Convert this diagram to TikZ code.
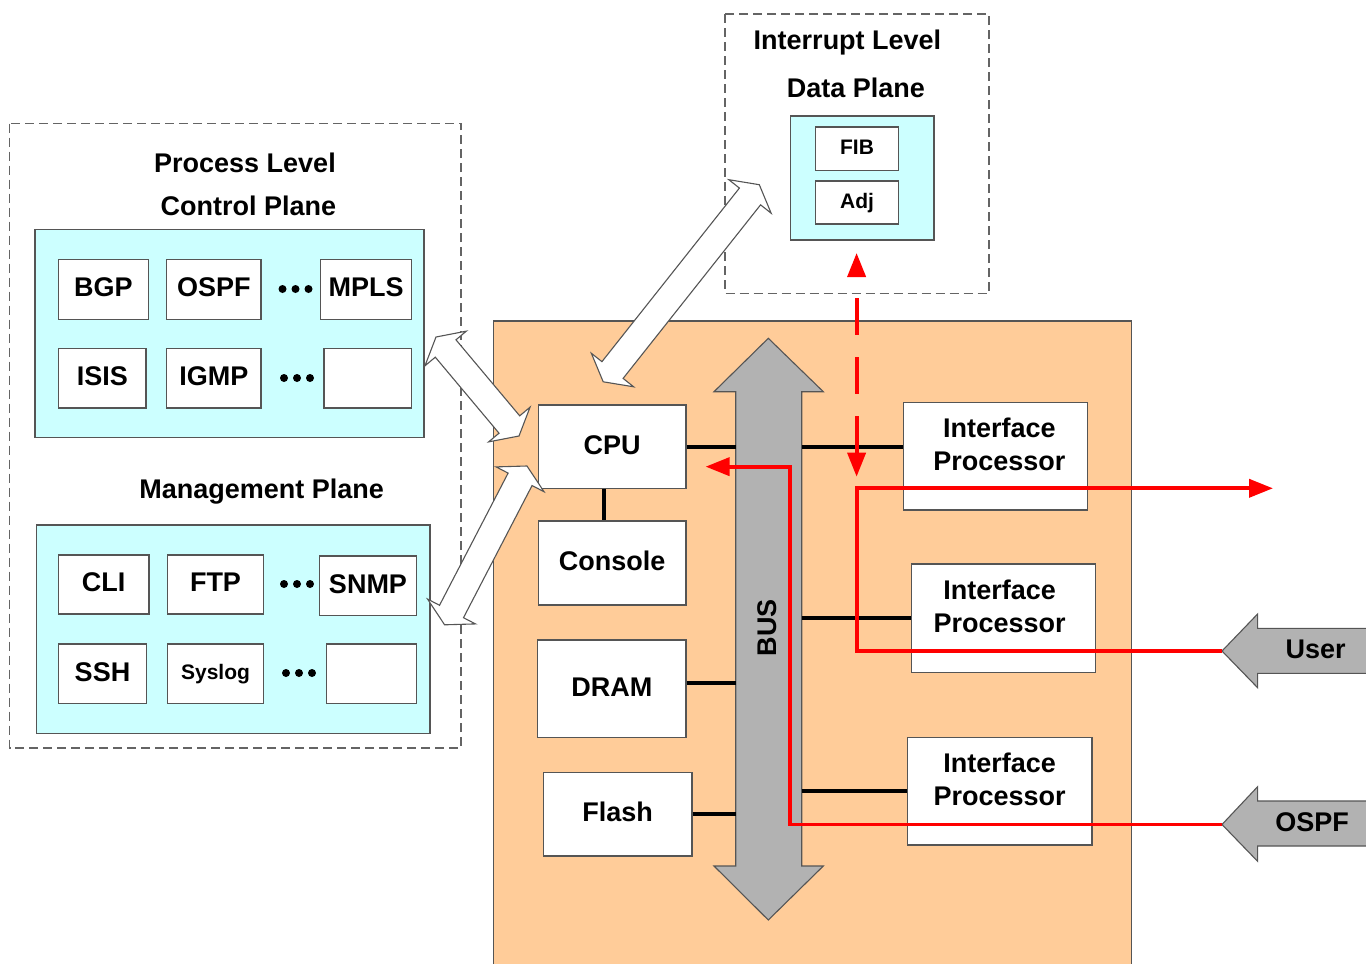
\documentclass[tikz,border=0pt]{standalone}
\usepackage{fontspec}
\setmainfont{Liberation Sans}
\usetikzlibrary{calc,arrows.meta}

\definecolor{peach}{RGB}{255,204,153}
\definecolor{palecyan}{RGB}{204,255,255}
\definecolor{busgray}{RGB}{178,178,178}
\definecolor{edgegray}{RGB}{85,85,85}
\definecolor{dashgray}{RGB}{100,100,100}

\newcommand\diagfont{\bfseries\fontsize{27}{33}\selectfont}
\newcommand\diagsmallfont{\bfseries\fontsize{21}{25}\selectfont}

% Rectangle node spanning the corners (x1,y1)-(x2,y2)
% \spanbox{style}{name}{x1}{y1}{x2}{y2}{text}
\newcommand\spanbox[7]{%
  \node[#1,minimum width={(#5-#3)*1pt},minimum height={(#6-#4)*1pt}]
    (#2) at ({(#3+#5)/2},{(#4+#6)/2}) {#7};}

% Notched double-headed block arrow between two tip points
\newcommand\duplexarrow[2]{%
  \coordinate (ha) at ($(#1)!15pt!(#2)$);
  \coordinate (hb) at ($(#2)!15pt!(#1)$);
  \draw[duplex] (#1)
    -- ($(ha)!27pt!90:(#2)$) -- ($(ha)!13.5pt!90:(#2)$)
    -- ($(hb)!13.5pt!-90:(#1)$) -- ($(hb)!27pt!-90:(#1)$)
    -- (#2)
    -- ($(hb)!27pt!90:(#1)$) -- ($(hb)!13.5pt!90:(#1)$)
    -- ($(ha)!13.5pt!-90:(#2)$) -- ($(ha)!27pt!-90:(#2)$) -- cycle;
}

\begin{document}
\begin{tikzpicture}[x=1pt,y=-1pt,
  region/.style={draw=dashgray,line width=1.2pt,dash pattern=on 9pt off 5pt},
  plane/.style={draw=edgegray,line width=1.2pt,fill=palecyan,inner sep=0pt},
  board/.style={draw=edgegray,line width=1.2pt,fill=peach,inner sep=0pt},
  proc/.style={draw=edgegray,line width=1.2pt,fill=white,inner sep=0pt,
               font=\diagfont,text height=19.3pt,text depth=4.5pt},
  procsmall/.style={proc,font=\diagsmallfont,text height=15pt,text depth=3.5pt},
  title/.style={font=\diagfont,inner sep=0pt,text height=19.3pt,text depth=0pt},
  iplabel/.style={font=\diagfont,align=center,inner sep=0pt},
  wire/.style={line width=4.2pt,black},
  flow/.style={line width=3.8pt,red},
  redtip/.style={-{Triangle[length=24pt,width=18pt]}},
  duplex/.style={draw=edgegray,line width=1.1pt,fill=white,line join=miter},
  busbody/.style={draw=edgegray,line width=1.1pt,fill=busgray},
  ingress/.style={draw=edgegray,line width=1.1pt,fill=busgray}]

\path[use as bounding box,clip] (0,0) rectangle (1366,964);

% dashed level regions
\draw[region] (9.5,123.5) rectangle (461,748);
\draw[region] (725,14) rectangle (989,293.5);

% planes
\spanbox{plane}{cp}{35}{229.5}{424}{437.5}{}
\spanbox{plane}{mp}{36.5}{525}{430}{733.5}{}
\spanbox{plane}{dp}{790.5}{116}{934}{240}{}

\node[title] (pltitle) at (245,162.5) {Process Level};
\node[title] (cptitle) at (248.3,206) {Control Plane};
\node[title] (mptitle) at (261.7,488.7) {Management Plane};
\node[title] (iltitle) at (847.5,40) {Interrupt Level};
\node[title] (dptitle) at (855.8,88.3) {Data Plane};

% control plane processes
\spanbox{proc}{bgp}{58.5}{259.5}{148.5}{319.5}{BGP}
\spanbox{proc}{ospf}{166.7}{259.5}{261}{319.5}{OSPF}
\spanbox{proc}{mpls}{320.7}{259.5}{411.7}{319.5}{MPLS}
\spanbox{proc}{isis}{58.7}{348.7}{146}{408}{ISIS}
\spanbox{proc}{igmp}{166.7}{348.7}{261}{408}{IGMP}
\spanbox{proc}{cpspare}{324}{348.7}{411.7}{408}{}

% management plane processes
\spanbox{proc}{cli}{58.3}{555}{149}{614}{CLI}
\spanbox{proc}{ftp}{167.7}{555}{263.3}{614}{FTP}
\spanbox{proc}{snmp}{319.3}{556}{416.7}{615.7}{SNMP}
\spanbox{proc}{ssh}{58.3}{644}{146.7}{703.3}{SSH}
\spanbox{procsmall}{syslog}{167.7}{644}{263.3}{703.3}{Syslog}
\spanbox{proc}{mpspare}{326.7}{644}{416.7}{703.3}{}

% ellipsis dots
\foreach \x/\y in {282.5/289,295.5/289,308.5/289,
                   284/378,297/378,310/378,
                   284/584,297/584,310/584,
                   286/673,299/673,312/673}
  \fill (\x,\y) circle[radius=4pt];

% data plane tables
\spanbox{procsmall}{fib}{815.7}{127}{898.3}{170.7}{FIB}
\spanbox{procsmall}{adj}{815.7}{181}{898.3}{224}{Adj}

% router board
\spanbox{board}{board}{493.5}{321}{1131.5}{1000}{}

% system bus
\draw[busbody] (768.3,338.3) -- (823.3,391.7) -- (801.7,391.7) -- (801.7,866)
  -- (823.3,866) -- (768.3,920) -- (714,866) -- (735.7,866) -- (735.7,391.7)
  -- (714,391.7) -- cycle;
\node[title,rotate=90] (buslbl) at (766.7,627.5) {BUS};
\coordinate (busL) at (735.7,0);
\coordinate (busR) at (801.7,0);

% board components
\spanbox{proc}{cpu}{538.3}{405}{686}{488.3}{CPU}
\spanbox{proc}{console}{538.3}{521}{686}{605}{Console}
\spanbox{proc}{dram}{537.7}{640}{686}{737.3}{DRAM}
\spanbox{proc}{flash}{543.3}{772.3}{692}{856}{Flash}
\spanbox{proc}{ip1}{903.3}{402.7}{1087.5}{510}{}
\spanbox{proc}{ip2}{911.5}{564}{1095.8}{672.7}{}
\spanbox{proc}{ip3}{907.4}{737.3}{1092}{845}{}
\node[iplabel] (ip1txt) at ($(ip1.center)+(4,-12)$) {Interface\\Processor};
\node[iplabel] (ip2txt) at ($(ip2.center)+(-4,-12)$) {Interface\\Processor};
\node[iplabel] (ip3txt) at ($(ip3.center)+(0,-12)$) {Interface\\Processor};

% bus attachments
\draw[wire] ([xshift=-8pt]cpu.south) -- ([xshift=-8pt]console.north);
\draw[wire] (cpu.east) -- (cpu.east -| busL);
\draw[wire] (cpu.east -| busR) -- (cpu.east -| ip1.west);
\draw[wire] (ip2.west -| busR) -- (ip2.west);
\draw[wire] (ip3.west -| busR) -- (ip3.west);
\draw[wire] ([yshift=6pt]dram.east) -- ([yshift=6pt]dram.east -| busL);
\draw[wire] (flash.east) -- (flash.east -| busL);

% plane <-> CPU links
\coordinate (cpTip) at (436,337);
\coordinate (cpuTipA) at (519,436);
\coordinate (mpTip) at (444.6,624.8);
\coordinate (cpuTipB) at (527,466);
\coordinate (cpuTipC) at (603.2,381.8);
\coordinate (dpTip) at (759.3,184.7);
\duplexarrow{cpTip}{cpuTipA}
\duplexarrow{mpTip}{cpuTipB}
\duplexarrow{cpuTipC}{dpTip}

% external traffic
\coordinate (userTip) at (1222,651);
\coordinate (ospfTip) at (1222,824.5);
\draw[ingress] (userTip) -- ++(35.6,-37) -- ++(0,14.3) -- ++(140,0) -- ++(0,45)
  -- ++(-140,0) -- ++(0,14.4) -- cycle;
\draw[ingress] (ospfTip) -- ++(35.6,-37.8) -- ++(0,14.3) -- ++(140,0) -- ++(0,45)
  -- ++(-140,0) -- ++(0,15.3) -- cycle;
\node[title] (userlbl) at (1315.7,649.2) {User};
\node[title] (ospflbl) at (1312,822.2) {OSPF};

% packet paths
\coordinate (drop) at (856.6,488.3);
\coordinate (egress) at (1273,488.3);
\coordinate (riser) at (790,0);
\coordinate (cpuIn) at ($(cpu.east)+(19,20)$);
\coordinate (puntTop) at (856.6,253);
\coordinate (puntBot) at (856.6,476.7);
\draw[flow,redtip] (userTip) -- (userTip -| drop) -- (drop) -- (egress);
\draw[flow,redtip] (ospfTip) -- (ospfTip -| riser) -- (riser |- cpuIn) -- (cpuIn);
\draw[flow,dash pattern=on 37pt off 22pt,dash phase=37pt,
      {Triangle[length=24pt,width=18pt]}-{Triangle[length=24pt,width=18pt]}]
  (puntTop) -- (puntBot);

\end{tikzpicture}
\end{document}
